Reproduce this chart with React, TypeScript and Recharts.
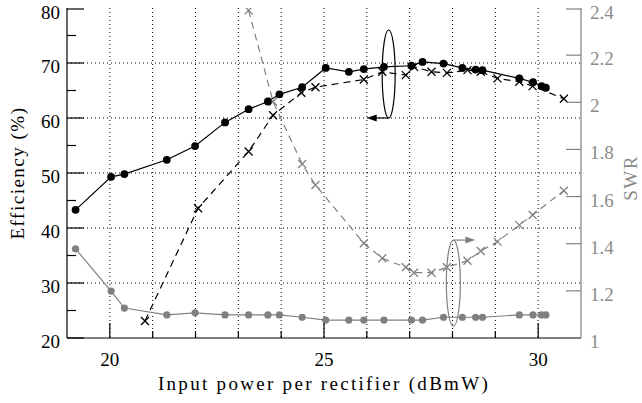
import React from 'react';
import { LineChart, Line, XAxis, YAxis, CartesianGrid, ReferenceDot } from 'recharts';

// efficiency / SWR with the solid (dot) markers
const solidX = [19.2, 20.03, 20.34, 21.33, 21.99, 22.69, 23.24, 23.69, 23.96, 24.49, 25.04, 25.58, 25.93, 26.4, 27.04, 27.3, 27.79, 28.23, 28.54, 28.7, 29.56, 29.88, 30.08, 30.18];
const solidEff = [43.3, 49.3, 49.8, 52.4, 54.9, 59.2, 61.6, 63.0, 64.3, 65.6, 69.1, 68.4, 68.9, 69.3, 69.5, 70.2, 69.9, 69.1, 68.8, 68.7, 67.2, 66.5, 65.8, 65.5];
const solidSwr = [1.378, 1.199, 1.127, 1.098, 1.107, 1.098, 1.098, 1.098, 1.098, 1.088, 1.076, 1.076, 1.076, 1.076, 1.076, 1.076, 1.088, 1.088, 1.088, 1.088, 1.098, 1.098, 1.098, 1.098];

// efficiency with the dashed (cross) markers
const dashEffX = [20.82, 22.06, 23.24, 23.81, 24.47, 24.8, 25.93, 26.36, 26.91, 27.1, 27.51, 27.87, 28.35, 28.66, 29.05, 29.56, 29.87, 30.6];
const dashEff = [23.1, 43.6, 53.9, 60.5, 64.6, 65.6, 67.0, 68.4, 67.8, 69.3, 68.4, 68.2, 68.7, 68.4, 67.2, 66.6, 65.8, 63.5];

// SWR with the dashed (cross) markers
const dashSwrX = [23.24, 23.81, 24.49, 24.8, 25.93, 26.36, 26.91, 27.1, 27.51, 27.87, 28.35, 28.66, 29.05, 29.56, 29.87, 30.6];
const dashSwr = [2.39, 2.003, 1.738, 1.649, 1.402, 1.338, 1.3, 1.277, 1.277, 1.3, 1.328, 1.369, 1.409, 1.479, 1.522, 1.625];

const xTicks = [20, 21, 22, 23, 24, 25, 26, 27, 28, 29, 30];
const xLabels = [20, 25, 30];
const effTicks = [20, 25, 30, 35, 40, 45, 50, 55, 60, 65, 70, 75, 80];
const effGrid = [30, 40, 50, 60, 70];
const swrTicks = [1, 1.2, 1.4, 1.6, 1.8, 2, 2.2, 2.4];

// annotation ellipses: [x, y]
const effMarker = [26.51, 68];
const swrMarker = [28.02, 1.233];

const zip = (xs: number[], ys: number[]) => xs.map((x, i) => ({ x, y: ys[i] }));

const FONT = '"Liberation Serif", serif';
const GRAY = '#808080';

const dot = (color: string, r: number) => (p: any) => {
  if (p.cx == null || p.cy == null) return <g key={`d${p.index}`} />;
  return <circle key={`d${p.index}`} cx={p.cx} cy={p.cy} r={r} fill={color} stroke="none" />;
};

const cross = (color: string) => (p: any) => {
  if (p.cx == null || p.cy == null) return <g key={`x${p.index}`} />;
  const s = 4;
  return (
    <path
      key={`x${p.index}`}
      d={`M${p.cx - s},${p.cy - s}L${p.cx + s},${p.cy + s}M${p.cx - s},${p.cy + s}L${p.cx + s},${p.cy - s}`}
      stroke={color}
      strokeWidth={1.3}
      fill="none"
    />
  );
};

const BottomTick = (p: any) => {
  const major = xLabels.includes(p.payload.value);
  return (
    <g>
      <line x1={p.x} x2={p.x} y1={p.y} y2={p.y - (major ? 15 : 7)} stroke="#000" strokeWidth={1.2} />
      {major && (
        <text x={p.x} y={p.y + 28} textAnchor="middle" fontFamily={FONT} fontSize={19} fill="#000">
          {p.payload.value}
        </text>
      )}
    </g>
  );
};

const TopTick = (p: any) => {
  const major = xLabels.includes(p.payload.value);
  return <line x1={p.x} x2={p.x} y1={p.y} y2={p.y + (major ? 15 : 7)} stroke="#000" strokeWidth={1.2} />;
};

const LeftTick = (p: any) => {
  const v = p.payload.value;
  const major = v % 10 === 0;
  return (
    <g>
      <line x1={p.x} x2={p.x + (major ? 17 : 9)} y1={p.y} y2={p.y} stroke="#000" strokeWidth={1.2} />
      {major && (
        <text x={p.x - 7} y={p.y + 10} textAnchor="end" fontFamily={FONT} fontSize={19} fill="#000">
          {v}
        </text>
      )}
    </g>
  );
};

const RightTick = (p: any) => {
  const v = p.payload.value;
  return (
    <g>
      <line x1={p.x} x2={p.x - 15} y1={p.y} y2={p.y} stroke={GRAY} strokeWidth={1.2} />
      <text x={p.x + 9} y={p.y + 10} textAnchor="start" fontFamily={FONT} fontSize={19} fill="#8c8c8c">
        {String(Number(v.toFixed(1)))}
      </text>
    </g>
  );
};

const EffEllipse = (p: any) => (
  <g>
    <ellipse cx={p.cx} cy={p.cy} rx={6.5} ry={44} fill="none" stroke="#000" strokeWidth={1.2} />
    <line x1={p.cx} x2={p.cx - 14} y1={p.cy + 44} y2={p.cy + 44} stroke="#000" strokeWidth={1.2} />
    <path d={`M${p.cx - 22},${p.cy + 44}L${p.cx - 12},${p.cy + 40.5}L${p.cx - 12},${p.cy + 47.5}Z`} fill="#000" />
  </g>
);

const SwrEllipse = (p: any) => (
  <g>
    <ellipse cx={p.cx} cy={p.cy} rx={7} ry={43} fill="none" stroke={GRAY} strokeWidth={1.2} />
    <line x1={p.cx} x2={p.cx + 14} y1={p.cy - 43} y2={p.cy - 43} stroke={GRAY} strokeWidth={1.2} />
    <path d={`M${p.cx + 22},${p.cy - 43}L${p.cx + 12},${p.cy - 46.5}L${p.cx + 12},${p.cy - 39.5}Z`} fill={GRAY} />
  </g>
);

export default function App() {
  return (
    <div style={{ position: 'absolute', left: 0, top: 0, background: '#fff' }}>
      <LineChart width={642} height={403} margin={{ top: 8, right: 0, bottom: 0, left: 0 }}>
        <CartesianGrid
          yAxisId="left"
          stroke="#000"
          strokeWidth={1}
          strokeDasharray="1 3"
          horizontalValues={effGrid}
          verticalValues={xTicks}
        />
        <XAxis
          type="number"
          dataKey="x"
          domain={[19, 31]}
          ticks={xTicks}
          allowDataOverflow
          height={65}
          tickSize={0}
          tickMargin={0}
          tickLine={false}
          tick={<BottomTick />}
          axisLine={{ stroke: '#000', strokeWidth: 1.2 }}
          label={() => (
            <text x={324} y={390} textAnchor="middle" fontFamily={FONT} fontSize={19} letterSpacing={2.3} fill="#000">
              Input power per rectifier (dBmW)
            </text>
          )}
        />
        <XAxis
          xAxisId="top"
          orientation="top"
          type="number"
          dataKey="x"
          domain={[19, 31]}
          ticks={xTicks}
          allowDataOverflow
          height={0}
          tickSize={0}
          tickMargin={0}
          tickLine={false}
          tick={<TopTick />}
          axisLine={{ stroke: '#000', strokeWidth: 1.2 }}
        />
        <YAxis
          yAxisId="left"
          type="number"
          domain={[20, 80]}
          ticks={effTicks}
          allowDataOverflow
          width={67}
          tickSize={0}
          tickMargin={0}
          tickLine={false}
          tick={<LeftTick />}
          axisLine={{ stroke: '#000', strokeWidth: 1.2 }}
          label={(p: any) => {
            const vb = p.viewBox;
            return (
              <text
                transform={`translate(24,${vb.y + vb.height / 2}) rotate(-90)`}
                textAnchor="middle"
                fontFamily={FONT}
                fontSize={19}
                letterSpacing={1.5}
                fill="#000"
              >
                Efficiency (%)
              </text>
            );
          }}
        />
        <YAxis
          yAxisId="right"
          orientation="right"
          type="number"
          domain={[1, 2.4]}
          ticks={swrTicks}
          allowDataOverflow
          width={61}
          tickSize={0}
          tickMargin={0}
          tickLine={false}
          tick={<RightTick />}
          axisLine={{ stroke: GRAY, strokeWidth: 1.2 }}
          label={(p: any) => {
            const vb = p.viewBox;
            return (
              <text
                transform={`translate(637,${vb.y + vb.height / 2 + 5}) rotate(-90)`}
                textAnchor="middle"
                fontFamily={FONT}
                fontSize={19}
                letterSpacing={1.5}
                fill="#8c8c8c"
              >
                SWR
              </text>
            );
          }}
        />
        <Line
          data={zip(solidX, solidSwr)}
          dataKey="y"
          yAxisId="right"
          type="linear"
          stroke={GRAY}
          strokeWidth={1.2}
          dot={dot(GRAY, 3.6)}
          activeDot={false}
          isAnimationActive={false}
        />
        <Line
          data={zip(dashSwrX, dashSwr)}
          dataKey="y"
          yAxisId="right"
          type="linear"
          stroke={GRAY}
          strokeWidth={1.2}
          strokeDasharray="7 5"
          dot={cross(GRAY)}
          activeDot={false}
          isAnimationActive={false}
        />
        <Line
          data={zip(dashEffX, dashEff)}
          dataKey="y"
          yAxisId="left"
          type="linear"
          stroke="#000"
          strokeWidth={1.2}
          strokeDasharray="7 5"
          dot={cross('#000')}
          activeDot={false}
          isAnimationActive={false}
        />
        <Line
          data={zip(solidX, solidEff)}
          dataKey="y"
          yAxisId="left"
          type="linear"
          stroke="#000"
          strokeWidth={1.2}
          dot={dot('#000', 3.9)}
          activeDot={false}
          isAnimationActive={false}
        />
        <ReferenceDot yAxisId="left" x={effMarker[0]} y={effMarker[1]} shape={<EffEllipse />} />
        <ReferenceDot yAxisId="right" x={swrMarker[0]} y={swrMarker[1]} shape={<SwrEllipse />} />
      </LineChart>
    </div>
  );
}
